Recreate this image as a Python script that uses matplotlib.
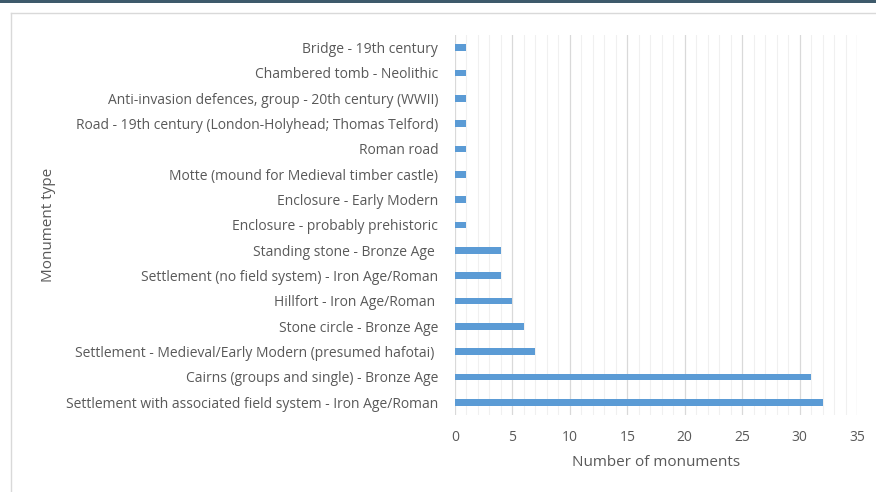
import matplotlib
matplotlib.use("Agg")
import matplotlib.pyplot as plt
from matplotlib.lines import Line2D
from matplotlib.patches import Rectangle
import numpy as np

categories = [
    "Settlement with associated field system - Iron Age/Roman",
    "Cairns (groups and single) - Bronze Age",
    "Settlement - Medieval/Early Modern (presumed hafotai) ",
    "Stone circle - Bronze Age",
    "Hillfort - Iron Age/Roman ",
    "Settlement (no field system) - Iron Age/Roman",
    "Standing stone - Bronze Age ",
    "Enclosure - probably prehistoric",
    "Enclosure - Early Modern",
    "Motte (mound for Medieval timber castle)",
    "Roman road",
    "Road - 19th century (London-Holyhead; Thomas Telford)",
    "Anti-invasion defences, group - 20th century (WWII)",
    "Chambered tomb - Neolithic",
    "Bridge - 19th century",
]
values = [32, 31, 7, 6, 5, 4, 4, 1, 1, 1, 1, 1, 1, 1, 1]
xticks = [0, 5, 10, 15, 20, 25, 30, 35]

plt.rcParams['font.family'] = ['Open Sans', 'DejaVu Sans']
txt = '#595959'

W, H = 876, 492
fig = plt.figure(figsize=(W/100, H/100), dpi=100)

# top dark band and border lines
fig.add_artist(Rectangle((0, 1 - 3/H), 1, 3/H, transform=fig.transFigure,
                         facecolor='#3e5a6b', edgecolor='none'))
fig.add_artist(Line2D([11/W, 1], [1 - 13/H, 1 - 13/H], transform=fig.transFigure,
                      color='#d9d9d9', lw=1))
fig.add_artist(Line2D([11/W, 11/W], [0, 1 - 13/H], transform=fig.transFigure,
                      color='#d9d9d9', lw=1))

ax = fig.add_axes([455/W, 1 - 415/H, (857 - 455)/W, (415 - 35)/H])
y = np.arange(len(categories))
ax.barh(y, values, height=0.27, color='#5b9bd5', zorder=3)
ax.set_xlim(0, 35)
ax.set_ylim(-0.5, len(categories) - 0.5)
ax.set_xticks(xticks)
ax.set_xticks(np.arange(0, 36, 1), minor=True)
ax.set_yticks(y)
ax.set_yticklabels(categories, fontsize=10, color=txt)
ax.set_xticklabels([str(t) for t in xticks], fontsize=10, color=txt)
ax.grid(axis='x', which='minor', color='#f0f0f0', lw=0.8, zorder=0)
ax.grid(axis='x', which='major', color='#d9d9d9', lw=0.9, zorder=1)
ax.tick_params(axis='both', which='both', length=0)
ax.tick_params(axis='x', pad=11)
ax.tick_params(axis='y', pad=12)
for s in ax.spines.values():
    s.set_visible(False)
ax.set_xlabel("Number of monuments", fontsize=11, color=txt, labelpad=7)
fig.text(49/W, 1 - 225/H, "Monument type", rotation=90, fontsize=11, color=txt,
         ha='center', va='center')

fig.savefig("out.png", dpi=100, facecolor='white')
